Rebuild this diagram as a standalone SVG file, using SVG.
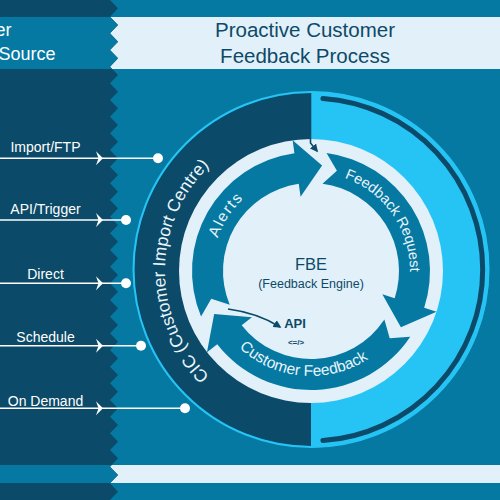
<svg xmlns="http://www.w3.org/2000/svg" xmlns:xlink="http://www.w3.org/1999/xlink" width="500" height="500" viewBox="0 0 500 500">
<style>
  .dark{fill:#0b4a68}
  .teal{fill:#0579a2}
  .light{fill:#e2f0fa}
  .sky{fill:#25c4f5}
  .lbl{font-family:"Liberation Sans",Arial,sans-serif;font-size:14px;fill:#ffffff;text-anchor:middle}
  .hdr{font-family:"Liberation Sans",Arial,sans-serif;font-size:18px;fill:#ffffff;text-anchor:end}
  .title{font-family:"Liberation Sans",Arial,sans-serif;font-size:20.5px;fill:#0d4a68;text-anchor:middle}
  .arc{font-family:"Liberation Sans",Arial,sans-serif;fill:#eaf5fc}
  .src{stroke:#ffffff;stroke-width:1.5;fill:none}
  .dot{fill:#ffffff}
  .thin{stroke:#0b4a68;stroke-width:1.6;fill:none}
</style>
<defs>
  <clipPath id="leftClip">
    <polygon points="0,0 110,0 118,8.33 110,16.67 118,25 110,33.33 118,41.67 110,50 118,58.33 110,66.67 118,75 110,83.33 118,91.67 110,100 118,108.33 110,116.67 118,125 110,133.33 118,141.67 110,150 118,158.33 110,166.67 118,175 110,183.33 118,191.67 110,200 118,208.33 110,216.67 118,225 110,233.33 118,241.67 110,250 118,258.33 110,266.67 118,275 110,283.33 118,291.67 110,300 118,308.33 110,316.67 118,325 110,333.33 118,341.67 110,350 118,358.33 110,366.67 118,375 110,383.33 118,391.67 110,400 118,408.33 110,416.67 118,425 110,433.33 118,441.67 110,450 118,458.33 110,466.67 118,475 110,483.33 118,491.67 110,500 0,500"/>
  </clipPath>
  <path id="chev" d="M-4,-7 L3,0 L-4,7 L-1.5,0 Z" fill="#ffffff"/>
  <marker id="ah" viewBox="0 0 10 10" refX="8" refY="5" markerWidth="5" markerHeight="5" orient="auto" markerUnits="strokeWidth">
    <path d="M0,0 L10,5 L0,10 Z" fill="#0b4a68"/>
  </marker>
  <path id="cicPath" d="M238,397.44 A146,146 0 0 1 238,144.56"/>
  <path id="alertsPath" d="M224.41,319 A99,99 0 0 1 312.73,172.02"/>
  <path id="frPath" d="M328.19,173.5 A99,99 0 0 1 407.06,294.95"/>
  <path id="cfPath" d="M212.33,306.91 A105,105 0 0 0 401.93,323.5"/>
</defs>

<g id="background">
  <rect x="0" y="0" width="500" height="500" class="teal"/>
  <rect x="0" y="17" width="500" height="52" class="light"/>
  <rect x="0" y="465" width="500" height="18" class="light"/>
  <g clip-path="url(#leftClip)">
    <rect x="0" y="0" width="120" height="500" class="dark"/>
    <rect x="0" y="17" width="120" height="52" class="teal"/>
    <rect x="0" y="465" width="120" height="18" class="teal"/>
  </g>
</g>

<g id="header-left">
  <text class="hdr" x="11.5" y="36">er</text>
  <text class="hdr" x="55.5" y="60">Source</text>
</g>
<g id="header-title">
  <text class="title" x="305" y="37">Proactive Customer</text>
  <text class="title" x="305" y="63">Feedback Process</text>
</g>

<g id="cic">
  <path d="M311,91.5 A178,178 0 0 1 311,447.5 Z" class="sky"/>
  <path d="M311,93 A176.5,176.5 0 0 0 311,446 Z" class="dark"/>
  <circle cx="311" cy="269.5" r="177.5" fill="none" stroke="#25c4f5" stroke-width="2"/>
  <path d="M322.9,98.4 A171.5,171.5 0 0 1 322.9,440.6" fill="none" stroke="#0b4a68" stroke-width="5" stroke-linecap="round"/>
  <circle cx="311" cy="271" r="132" class="light"/>
  <text class="arc" font-size="17.5"><textPath xlink:href="#cicPath" href="#cicPath" startOffset="50%" text-anchor="middle">CIC (Customer Import Centre)</textPath></text>
</g>

<g id="alerts">
  <path class="teal" d="M201.06,316.54 A119,119 0 0 1 294.44,153.16 L292.63,140.28 L322.08,165.58 L300.56,196.73 L298.75,183.86 A88,88 0 0 0 229.70,304.68 L211.26,298.66 Z"/>
  <text class="arc" font-size="15.5" letter-spacing="1.5"><textPath xlink:href="#alertsPath" href="#alertsPath" startOffset="52%" text-anchor="middle">Alerts</textPath></text>
</g>

<g id="feedback-request">
  <path class="teal" d="M326.53,153.02 A119,119 0 0 1 424.18,307.77 L436.54,311.79 L400.89,327.17 L382.33,294.18 L394.69,298.19 A88,88 0 0 0 322.49,183.75 L336.91,170.80 Z"/>
  <text class="arc" font-size="14.5"><textPath xlink:href="#frPath" href="#frPath" startOffset="48%" text-anchor="middle">Feedback Request</textPath></text>
</g>

<g id="customer-feedback">
  <path class="teal" d="M410.23,336.68 A119,119 0 0 1 217.23,344.26 L206.98,352.27 L214.16,314.11 L251.90,317.17 L241.66,325.18 A88,88 0 0 0 384.38,319.57 L389.70,338.22 Z"/>
  <text class="arc" font-size="15.5"><textPath xlink:href="#cfPath" href="#cfPath" startOffset="50%" text-anchor="middle">Customer Feedback</textPath></text>
</g>

<g id="fbe">
  <text x="311" y="270" font-family="'Liberation Sans',Arial,sans-serif" font-size="16.5" fill="#0d4a68" text-anchor="middle">FBE</text>
  <text x="311" y="288" font-family="'Liberation Sans',Arial,sans-serif" font-size="12.5" fill="#0d4a68" text-anchor="middle">(Feedback Engine)</text>
</g>

<g id="api">
  <text x="295" y="328" font-family="'Liberation Sans',Arial,sans-serif" font-size="13" font-weight="bold" fill="#0d4a68" text-anchor="middle">API</text>
  <text x="296" y="344.5" font-family="'Liberation Sans',Arial,sans-serif" font-size="8" font-weight="bold" fill="#0d4a68" text-anchor="middle">&lt;=/&gt;</text>
</g>

<g id="sources">
  <g id="src-import"><text class="lbl" x="45.5" y="152.3">Import/FTP</text></g>
  <g id="src-api"><text class="lbl" x="45.5" y="214.3">API/Trigger</text></g>
  <g id="src-direct"><text class="lbl" x="45.5" y="279.3">Direct</text></g>
  <g id="src-schedule"><text class="lbl" x="45.5" y="342.3">Schedule</text></g>
  <g id="src-ondemand"><text class="lbl" x="45.5" y="405.5">On Demand</text></g>
</g>

<g id="connectors">
  <line class="src" x1="0" y1="158.3" x2="158" y2="158.3"/>
  <line class="src" x1="0" y1="220" x2="126" y2="220"/>
  <line class="src" x1="0" y1="283.3" x2="126" y2="283.3"/>
  <line class="src" x1="0" y1="345.7" x2="141" y2="345.7"/>
  <line class="src" x1="0" y1="408.3" x2="185" y2="408.3"/>
  <use href="#chev" x="100" y="158.3"/>
  <use href="#chev" x="100" y="220"/>
  <use href="#chev" x="100" y="283.3"/>
  <use href="#chev" x="100" y="345.7"/>
  <use href="#chev" x="100" y="408.3"/>
  <circle class="dot" cx="158" cy="158.3" r="5"/>
  <circle class="dot" cx="126" cy="220" r="5"/>
  <circle class="dot" cx="126" cy="283.3" r="5"/>
  <circle class="dot" cx="141" cy="345.7" r="5"/>
  <circle class="dot" cx="185" cy="408.3" r="5"/>
  <path class="thin" d="M310.5,93 V143 L317,151" marker-end="url(#ah)"/>
  <path class="thin" d="M228,309 Q258,313 280,327" marker-end="url(#ah)"/>
</g>
</svg>
